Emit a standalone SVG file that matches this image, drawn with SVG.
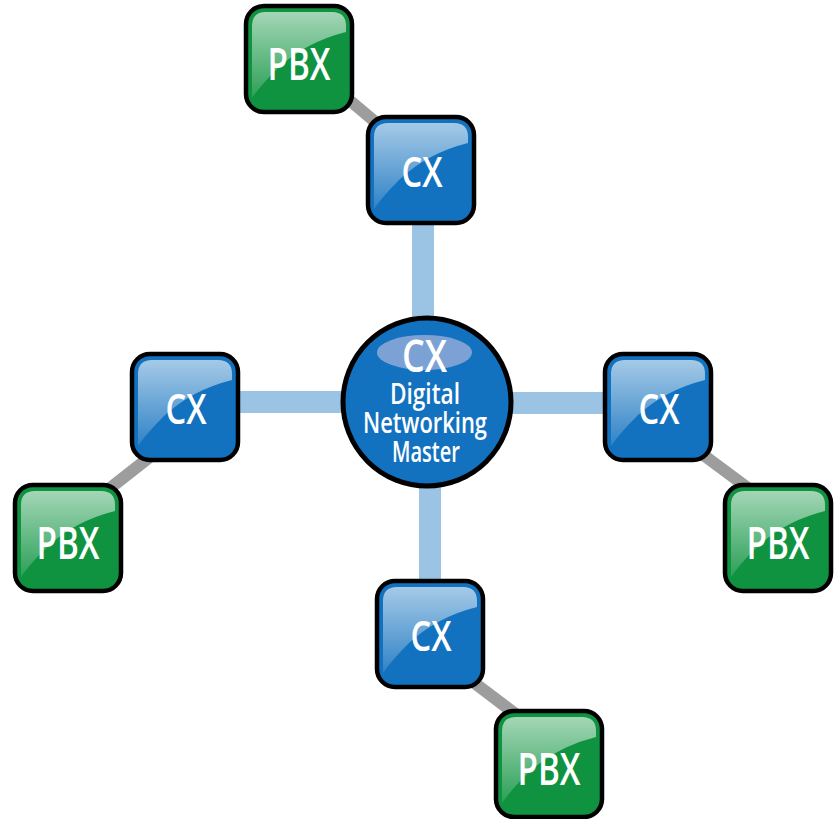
<svg xmlns="http://www.w3.org/2000/svg" width="834" height="819" viewBox="0 0 834 819">
  <style>
    .link-main { stroke: #9bc3e4; stroke-width: 22; fill: none; }
    .link-pbx { stroke: #9d9d9d; stroke-width: 12; fill: none; }
    .box { stroke: #000; stroke-width: 4.5; }
    .cx { fill: #1372bf; }
    .pbx { fill: #0f9340; }
    .label { fill: #fff; font-family: "Open Sans", "Liberation Sans", sans-serif; font-weight: 600; text-anchor: middle; }
  </style>
  <defs>
    <linearGradient id="shine" x1="0" y1="0" x2="0" y2="1">
      <stop offset="0" stop-color="#fff" stop-opacity="0.62"/>
      <stop offset="1" stop-color="#fff" stop-opacity="0.12"/>
    </linearGradient>
    <!-- glossy highlight in the upper part of a 106px tile -->
    <path id="gloss" d="M6,92 L6,20 Q6,6 20,6 L86,6 Q100,6 100,20 L100,26 Q60,36 32,62 Q14,80 6,92 Z" fill="url(#shine)"/>
    <rect id="tile" x="0" y="0" width="106" height="106" rx="18" ry="18"/>
  </defs>

  <g id="connectors">
    <line class="link-main" x1="423" y1="215" x2="423" y2="330"/>
    <line class="link-main" x1="430" y1="475" x2="430" y2="590"/>
    <line class="link-main" x1="230" y1="402" x2="350" y2="402"/>
    <line class="link-main" x1="505" y1="403" x2="615" y2="403"/>
    <line class="link-pbx" x1="335" y1="88" x2="392" y2="136"/>
    <line class="link-pbx" x1="165" y1="445" x2="95" y2="500"/>
    <line class="link-pbx" x1="690" y1="445" x2="760" y2="497"/>
    <line class="link-pbx" x1="460" y1="672" x2="530" y2="725"/>
  </g>

  <g id="master">
    <circle cx="427" cy="402" r="84" fill="#1372bf" stroke="#000" stroke-width="5"/>
    <ellipse cx="424.5" cy="352.5" rx="47.5" ry="17.5" fill="#8fa9d8" opacity="0.85"/>
    <text class="label" x="424.5" y="371.5" font-size="45" textLength="45" lengthAdjust="spacingAndGlyphs">CX</text>
    <text class="label" x="425" y="404" font-size="28" textLength="70" lengthAdjust="spacingAndGlyphs">Digital</text>
    <text class="label" x="425" y="432.5" font-size="28" textLength="124" lengthAdjust="spacingAndGlyphs">Networking</text>
    <text class="label" x="426" y="461.5" font-size="28" textLength="68" lengthAdjust="spacingAndGlyphs">Master</text>
  </g>

  <g id="cx-top" transform="translate(368,117)">
    <use href="#tile" class="box cx"/>
    <use href="#gloss"/>
    <text class="label" x="54" y="70" font-size="42" textLength="41" lengthAdjust="spacingAndGlyphs">CX</text>
  </g>
  <g id="pbx-top" transform="translate(246,6)">
    <use href="#tile" class="box pbx"/>
    <use href="#gloss"/>
    <text class="label" x="53" y="74" font-size="46" textLength="63" lengthAdjust="spacingAndGlyphs">PBX</text>
  </g>

  <g id="cx-left" transform="translate(132,354)">
    <use href="#tile" class="box cx"/>
    <use href="#gloss"/>
    <text class="label" x="54" y="70" font-size="42" textLength="41" lengthAdjust="spacingAndGlyphs">CX</text>
  </g>
  <g id="pbx-left" transform="translate(15,485)">
    <use href="#tile" class="box pbx"/>
    <use href="#gloss"/>
    <text class="label" x="53" y="74" font-size="46" textLength="63" lengthAdjust="spacingAndGlyphs">PBX</text>
  </g>

  <g id="cx-right" transform="translate(605,354)">
    <use href="#tile" class="box cx"/>
    <use href="#gloss"/>
    <text class="label" x="54" y="70" font-size="42" textLength="41" lengthAdjust="spacingAndGlyphs">CX</text>
  </g>
  <g id="pbx-right" transform="translate(725,485)">
    <use href="#tile" class="box pbx"/>
    <use href="#gloss"/>
    <text class="label" x="53" y="74" font-size="46" textLength="63" lengthAdjust="spacingAndGlyphs">PBX</text>
  </g>

  <g id="cx-bottom" transform="translate(377,581)">
    <use href="#tile" class="box cx"/>
    <use href="#gloss"/>
    <text class="label" x="54" y="70" font-size="42" textLength="41" lengthAdjust="spacingAndGlyphs">CX</text>
  </g>
  <g id="pbx-bottom" transform="translate(496,711)">
    <use href="#tile" class="box pbx"/>
    <use href="#gloss"/>
    <text class="label" x="53" y="74" font-size="46" textLength="63" lengthAdjust="spacingAndGlyphs">PBX</text>
  </g>
</svg>
